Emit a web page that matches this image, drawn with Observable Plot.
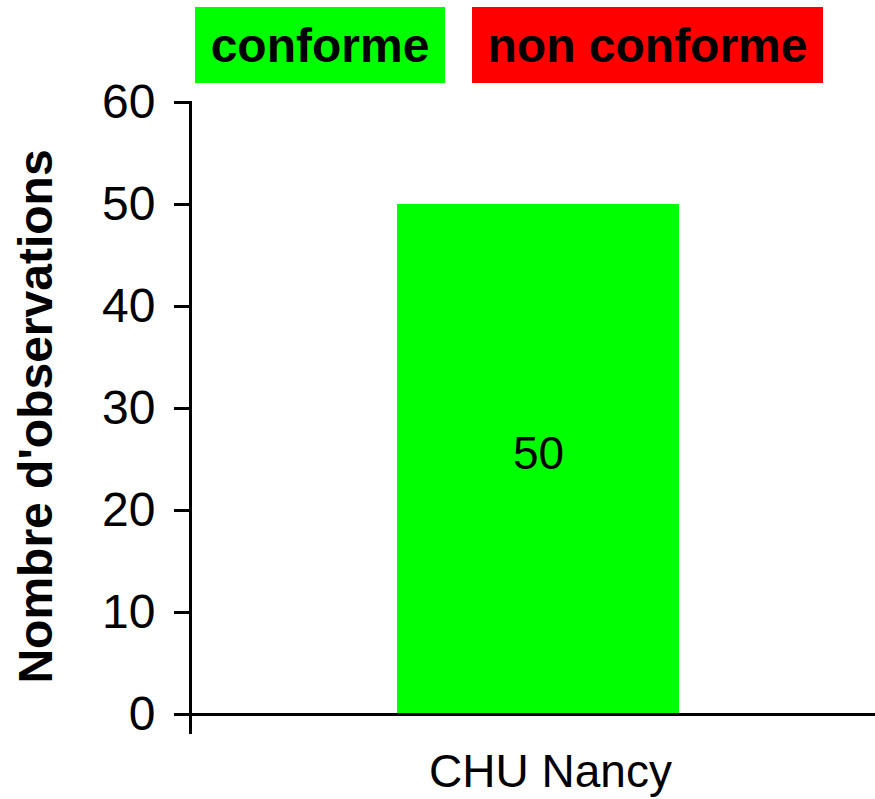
<!DOCTYPE html>
<html><head><meta charset="utf-8">
<script src="https://cdn.jsdelivr.net/npm/d3@7"></script>
<script src="https://cdn.jsdelivr.net/npm/@observablehq/plot@0.6"></script>
<style>
body{margin:0;background:#fff;font-family:"Liberation Sans",Arial,sans-serif;}
#legend{position:relative;height:88px;width:875px;}
.key{position:absolute;top:7px;height:76px;display:flex;align-items:center;justify-content:center;font-weight:bold;font-size:48px;color:#000;}
#chart svg{overflow:visible;display:block;}
</style></head><body>
<div id="legend"></div><div id="chart"></div>
<script>
const sites = ["CHU Nancy"];
const conforme = [50];
const nonConforme = [0];
const seriesNames = ["conforme", "non conforme"];
const seriesColors = ["#00ff00", "#ff0000"];
const yTicks = [0, 10, 20, 30, 40, 50, 60];
const yTitle = "Nombre d'observations";

// legend
const legend = document.getElementById("legend");
const keyPos = [{left: 195, width: 250}, {left: 472, width: 351}];
seriesNames.forEach((n, i) => {
  const d = document.createElement("div");
  d.className = "key";
  d.style.left = keyPos[i].left + "px";
  d.style.width = keyPos[i].width + "px";
  d.style.background = seriesColors[i];
  d.textContent = n;
  legend.appendChild(d);
});

const data = sites.flatMap((s, i) => [
  {site: s, status: seriesNames[0], value: conforme[i]},
  {site: s, status: seriesNames[1], value: nonConforme[i]}
]);
const shown = data.filter(d => d.value > 0);

const chart = Plot.plot({
  width: 875, height: 711,
  marginTop: 14, marginLeft: 190, marginRight: 0, marginBottom: 85,
  style: {fontFamily: "Liberation Sans, Arial, sans-serif", fontSize: "48px", color: "#000", background: "#fff", overflow: "visible"},
  x: {domain: sites, padding: 0.4166, align: 0.514, label: null},
  y: {domain: [0, 60], ticks: yTicks, label: null},
  color: {domain: seriesNames, range: seriesColors},
  marks: [
    Plot.barY(shown, Plot.stackY({x: "site", y: "value", fill: "status"})),
    Plot.text(shown, Plot.stackY({x: "site", y: "value", text: d => String(d.value), fontSize: 46, dy: -5, fill: "#000"})),
    Plot.axisY({ticks: yTicks, tickSize: 16, tickPadding: 19, strokeWidth: 3, label: null, tickFormat: d => String(d)}),
    Plot.axisX({tickSize: 0, tickPadding: 40, label: null, dx: 12, fontSize: 46}),
    Plot.ruleY([0], {strokeWidth: 3, insetLeft: -16}),
    Plot.frame({anchor: "left", strokeWidth: 3, insetBottom: -18}),
    Plot.text([yTitle], {frameAnchor: "left", textAnchor: "middle", lineAnchor: "middle", rotate: -90, dx: -154, dy: 8, fontSize: 48, fontWeight: "bold", fill: "#000"})
  ]
});
document.getElementById("chart").appendChild(chart);
</script>
</body></html>
